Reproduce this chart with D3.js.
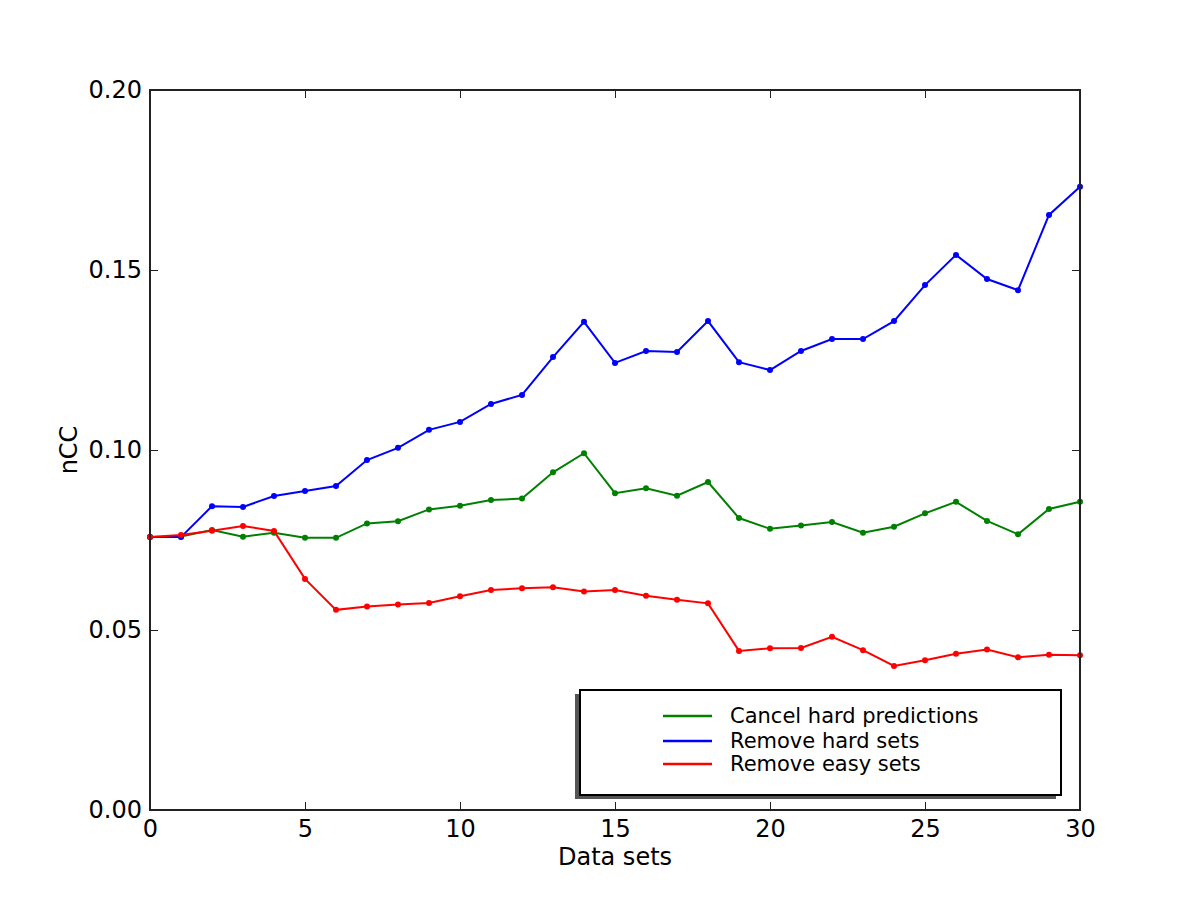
<!DOCTYPE html>
<html lang="en">
<head>
    <meta charset="utf-8">
    <title>nCC vs data sets</title>
    <script src="https://d3js.org/d3.v7.min.js"></script>
    <style>
        body { margin: 0; background: #fff; }
        text { font-family: "DejaVu Sans", sans-serif; fill: #000; }
    </style>
</head>
<body>
<div id="chart"></div>
<script>
// Data
var dataSets = d3.range(0, 31);
var cancelHard = [0.0758, 0.0760, 0.0778, 0.0759, 0.0770, 0.0756, 0.0756, 0.0796, 0.0802, 0.0835,
    0.0845, 0.0861, 0.0865, 0.0938, 0.0991, 0.0880, 0.0894, 0.0873, 0.0911, 0.0811,
    0.0781, 0.0790, 0.0800, 0.0770, 0.0787, 0.0824, 0.0856, 0.0803, 0.0766, 0.0836, 0.0856];
var removeHard = [0.0758, 0.0758, 0.0844, 0.0842, 0.0872, 0.0886, 0.0900, 0.0972, 0.1006, 0.1056,
    0.1078, 0.1128, 0.1153, 0.1258, 0.1356, 0.1242, 0.1275, 0.1272, 0.1358, 0.1244,
    0.1222, 0.1275, 0.1308, 0.1308, 0.1358, 0.1458, 0.1542, 0.1475, 0.1444, 0.1653, 0.1731];
var removeEasy = [0.0758, 0.0764, 0.0776, 0.0789, 0.0775, 0.0642, 0.0556, 0.0565, 0.0571, 0.0575,
    0.0594, 0.0611, 0.0616, 0.0619, 0.0607, 0.0611, 0.0595, 0.0584, 0.0574, 0.0442,
    0.0449, 0.0450, 0.0481, 0.0444, 0.0400, 0.0416, 0.0434, 0.0446, 0.0424, 0.0431, 0.0430];
var seriesNames = ["Cancel hard predictions", "Remove hard sets", "Remove easy sets"];
var seriesColors = ["#008000", "#0000ff", "#ff0000"];
var xTicks = [0, 5, 10, 15, 20, 25, 30];
var yTicks = [0.00, 0.05, 0.10, 0.15, 0.20];

var width = 1200, height = 900;
var margin = {top: 90, right: 120, bottom: 90, left: 150};

var svg = d3.select("#chart")
    .append("svg")
    .attr("width", width)
    .attr("height", height);

var x = d3.scaleLinear().domain([0, 30]).range([margin.left, width - margin.right]);
var y = d3.scaleLinear().domain([0, 0.2]).range([height - margin.bottom, margin.top]);

var series = [cancelHard, removeHard, removeEasy];

// lines + markers
var line = d3.line()
    .x((d, i) => x(dataSets[i]))
    .y(d => y(d));

var plot = svg.append("g");
series.forEach(function(vals, k) {
    plot.append("path")
        .datum(vals)
        .attr("d", line)
        .attr("fill", "none")
        .attr("stroke", seriesColors[k])
        .attr("stroke-width", 2);
    plot.selectAll(".dot" + k)
        .data(vals)
        .enter()
        .append("circle")
        .attr("cx", (d, i) => x(dataSets[i]))
        .attr("cy", d => y(d))
        .attr("r", 3)
        .attr("fill", seriesColors[k]);
});

// axes (ticks point inward on all four sides)
var tickLen = 8;
var axes = svg.append("g");
axes.append("g")
    .attr("transform", `translate(0,${y(0)})`)
    .call(d3.axisBottom(x).tickValues(xTicks).tickSize(-tickLen).tickPadding(10).tickFormat(d3.format("d")));
axes.append("g")
    .attr("transform", `translate(0,${y(0.2)})`)
    .call(d3.axisTop(x).tickValues(xTicks).tickSize(-tickLen).tickFormat(""));
axes.append("g")
    .attr("transform", `translate(${x(0)},0)`)
    .call(d3.axisLeft(y).tickValues(yTicks).tickSize(-tickLen).tickPadding(8).tickFormat(d3.format(".2f")));
axes.append("g")
    .attr("transform", `translate(${x(30)},0)`)
    .call(d3.axisRight(y).tickValues(yTicks).tickSize(-tickLen).tickFormat(""));

axes.selectAll(".domain").remove();
axes.selectAll(".tick line").attr("stroke", "#222").attr("stroke-width", 1);
axes.selectAll(".tick text")
    .style("font-family", "DejaVu Sans, sans-serif")
    .style("font-size", "24px")
    .attr("fill", "#000");

// frame
svg.append("rect")
    .attr("x", x(0))
    .attr("y", y(0.2))
    .attr("width", x(30) - x(0))
    .attr("height", y(0) - y(0.2))
    .attr("fill", "none")
    .attr("stroke", "#222")
    .attr("stroke-width", 2);

// axis labels
svg.append("text")
    .attr("x", (x(0) + x(30)) / 2)
    .attr("y", 865)
    .attr("text-anchor", "middle")
    .style("font-size", "24px")
    .text("Data sets");
svg.append("text")
    .attr("transform", `translate(77,${(y(0) + y(0.2)) / 2}) rotate(-90)`)
    .attr("text-anchor", "middle")
    .style("font-size", "24px")
    .text("nCC");

// legend with shadow
var lg = {x: 580, y: 690, w: 481, h: 105};
var legend = svg.append("g");
legend.append("rect")
    .attr("x", lg.x - 5).attr("y", lg.y + 4)
    .attr("width", lg.w).attr("height", lg.h)
    .attr("fill", "#555");
legend.append("rect")
    .attr("x", lg.x).attr("y", lg.y)
    .attr("width", lg.w).attr("height", lg.h)
    .attr("fill", "#fff")
    .attr("stroke", "#000")
    .attr("stroke-width", 2);

var rowY = [716, 741, 764];
seriesNames.forEach(function(name, k) {
    legend.append("line")
        .attr("x1", 663).attr("x2", 712)
        .attr("y1", rowY[k]).attr("y2", rowY[k])
        .attr("stroke", seriesColors[k])
        .attr("stroke-width", 2.5);
    legend.append("text")
        .attr("x", 730)
        .attr("y", rowY[k] + 7)
        .style("font-size", "21px")
        .text(name);
});
</script>
</body>
</html>
